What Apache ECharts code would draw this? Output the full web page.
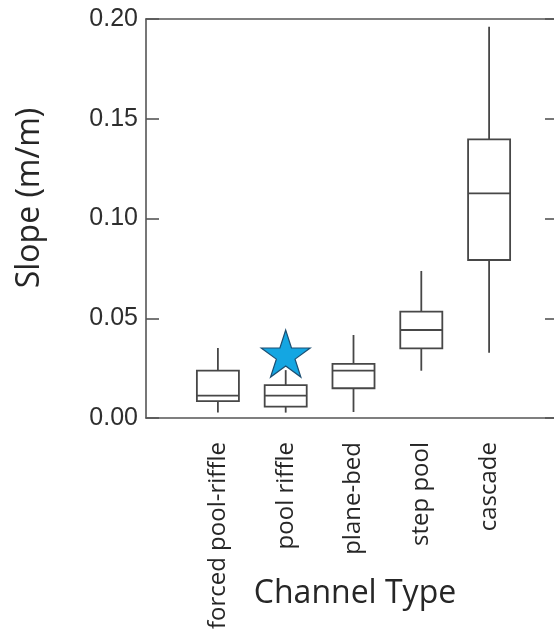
<!DOCTYPE html>
<html>
<head>
<meta charset="utf-8">
<script src="https://cdn.jsdelivr.net/npm/echarts@6/dist/echarts.min.js"></script>
<style>
  html, body { margin: 0; padding: 0; background: #ffffff; }
  #chart { width: 554px; height: 636px; }
</style>
</head>
<body>
<div id="chart"></div>
<script>
// ---- data ----
var categories = ['forced pool-riffle', 'pool riffle', 'plane-bed', 'step pool', 'cascade'];
var whiskerLow  = [0.0027, 0.0027, 0.0030, 0.0237, 0.0327];
var quartile1   = [0.0085, 0.0057, 0.0149, 0.0349, 0.0792];
var medians     = [0.0112, 0.0112, 0.0237, 0.0441, 0.1126];
var quartile3   = [0.0237, 0.0165, 0.0271, 0.0533, 0.1397];
var whiskerHigh = [0.0351, 0.0240, 0.0416, 0.0737, 0.1961];
var starCategory = 'pool riffle';
var starValue = 0.0323;

var boxData = categories.map(function (c, i) {
  return [i, whiskerLow[i], quartile1[i], medians[i], quartile3[i], whiskerHigh[i]];
});

var LINE = '#474747';
var AX = '#555555';
var chart = echarts.init(document.getElementById('chart'), null, { renderer: 'canvas' });

var starPath = 'path://M0,-100L22.45,-30.9L95.1,-30.9L36.3,11.8L58.8,80.9L0,38.2L-58.8,80.9L-36.3,11.8L-95.1,-30.9L-22.45,-30.9Z';

var option = {
  backgroundColor: '#ffffff',
  animation: false,
  grid: [
    { left: 146, top: 19, width: 411, bottom: 218, containLabel: false, outerBoundsMode: 'none' },
    { left: 184, top: 19, width: 339, bottom: 218, containLabel: false, outerBoundsMode: 'none' }
  ],
  xAxis: [
    { gridIndex: 0, type: 'value', min: 0, max: 1, position: 'bottom',
      axisLine: { show: true, onZero: false, lineStyle: { color: AX, width: 1.6 } },
      axisTick: { show: false }, axisLabel: { show: false }, splitLine: { show: false } },
    { gridIndex: 0, type: 'value', min: 0, max: 1, position: 'top',
      axisLine: { show: true, onZero: false, lineStyle: { color: AX, width: 1.6 } },
      axisTick: { show: false }, axisLabel: { show: false }, splitLine: { show: false } },
    { gridIndex: 1, type: 'category', data: categories, boundaryGap: true,
      axisLine: { show: false, onZero: false }, axisTick: { show: false }, splitLine: { show: false },
      axisLabel: { rotate: 90, margin: 24, interval: 0, color: '#262626',
        fontFamily: 'Open Sans', fontSize: 24 } }
  ],
  yAxis: [
    { gridIndex: 0, type: 'value', min: 0, max: 0.2, interval: 0.05, position: 'left',
      axisLine: { show: true, onZero: false, lineStyle: { color: AX, width: 1.6 } },
      axisTick: { show: true, inside: true, length: 13, lineStyle: { color: AX, width: 1.6 } },
      axisLabel: { margin: 8, color: '#2e2e2e', fontFamily: 'Liberation Sans', fontSize: 25,
        formatter: function (v) { return v.toFixed(2); } },
      splitLine: { show: false } },
    { gridIndex: 0, type: 'value', min: 0, max: 0.2, interval: 0.05, position: 'right',
      axisLine: { show: true, onZero: false, lineStyle: { color: AX, width: 1.6 } },
      axisTick: { show: true, inside: true, length: 12, lineStyle: { color: AX, width: 1.6 } },
      axisLabel: { show: false }, splitLine: { show: false } },
    { gridIndex: 1, type: 'value', min: 0, max: 0.2, show: false }
  ],
  graphic: [
    { type: 'text', x: 30, y: 198, rotation: Math.PI / 2,
      style: { text: 'Slope (m/m)', fill: '#262626', font: '32px "Open Sans"',
        align: 'center', verticalAlign: 'middle' } },
    { type: 'text', x: 355, y: 594,
      style: { text: 'Channel Type', fill: '#262626', font: '32px "Open Sans"',
        align: 'center', verticalAlign: 'middle' } }
  ],
  series: [
    {
      type: 'custom',
      xAxisIndex: 2, yAxisIndex: 2,
      data: boxData,
      encode: { x: 0, y: [1, 2, 3, 4, 5] },
      renderItem: function (params, api) {
        var i = api.value(0);
        var lo = api.coord([i, api.value(1)]);
        var b1 = api.coord([i, api.value(2)]);
        var md = api.coord([i, api.value(3)]);
        var b3 = api.coord([i, api.value(4)]);
        var hi = api.coord([i, api.value(5)]);
        var w = api.size([1, 0])[0] * 0.62;
        var x = lo[0];
        var ls = { stroke: LINE, lineWidth: 1.8 };
        return {
          type: 'group',
          children: [
            { type: 'line', shape: { x1: x, y1: lo[1], x2: x, y2: b1[1] }, style: ls },
            { type: 'line', shape: { x1: x, y1: b3[1], x2: x, y2: hi[1] }, style: ls },
            { type: 'rect', shape: { x: x - w / 2, y: b3[1], width: w, height: b1[1] - b3[1] },
              style: { stroke: LINE, lineWidth: 1.8, fill: '#ffffff' } },
            { type: 'line', shape: { x1: x - w / 2, y1: md[1], x2: x + w / 2, y2: md[1] }, style: ls }
          ]
        };
      },
      z: 2
    },
    {
      type: 'scatter',
      xAxisIndex: 2, yAxisIndex: 2,
      data: [[starCategory, starValue]],
      symbol: starPath,
      symbolSize: [49, 47],
      itemStyle: { color: '#14a6e2', borderColor: '#1d4f72', borderWidth: 1.2, opacity: 1 },
      z: 5
    }
  ]
};
chart.setOption(option);
</script>
</body>
</html>
